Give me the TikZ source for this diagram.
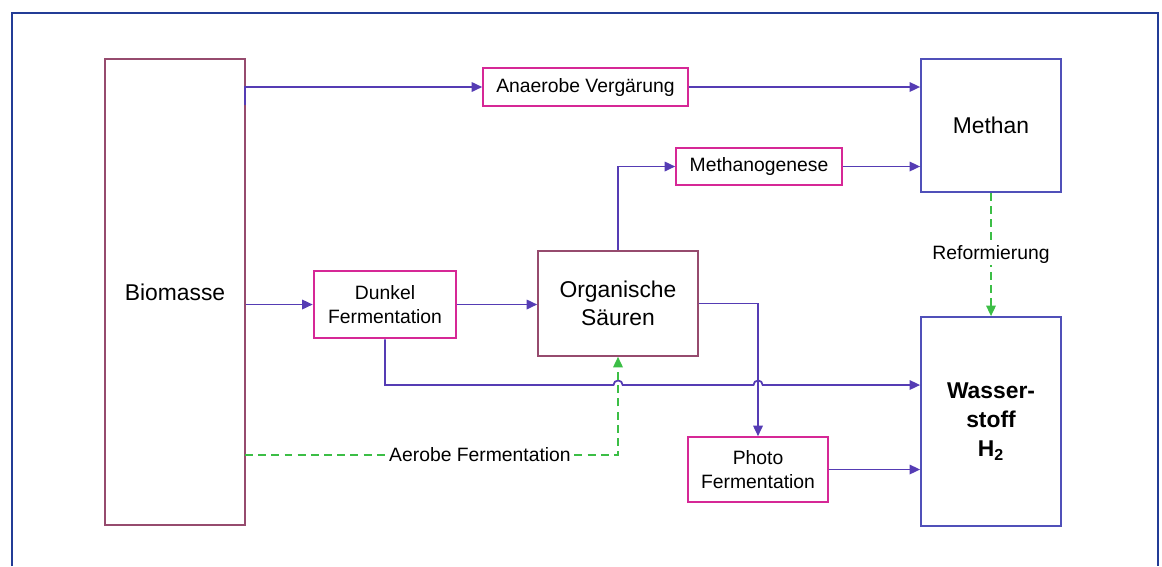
\documentclass[tikz,border=0pt]{standalone}
\usepackage{fontspec}
\setmainfont{Liberation Sans}
\usepackage{tikz}
\usetikzlibrary{arrows.meta}
\definecolor{rahmen}{RGB}{35,60,150}
\definecolor{mauve}{RGB}{150,75,110}
\definecolor{magenta}{RGB}{214,40,150}
\definecolor{blaubox}{RGB}{80,80,185}
\definecolor{pfeil}{RGB}{85,60,180}
\definecolor{gruen}{RGB}{60,190,70}
\tikzstyle{flow} = [draw=pfeil,line width=1pt,-{Triangle[length=6pt,width=5.4pt]}]
\tikzstyle{reform} = [draw=gruen,line width=1pt,dash pattern=on 4.5pt off 3pt,-{Triangle[length=6pt,width=5.4pt]}]

\begin{document}
\begin{tikzpicture}[x=0.02cm,y=-0.02cm,
                big/.style = {draw=mauve, line width=0.9pt, inner sep=0pt,
                  font=\fontsize{13}{16}\selectfont, align=center},
                proc/.style = {draw=magenta, line width=0.9pt, inner sep=0pt,
                  font=\fontsize{11}{13.7}\selectfont, align=center},
                prod/.style = {draw=blaubox, line width=1pt, inner sep=0pt,
                  font=\fontsize{13}{16}\selectfont, align=center}]
                \useasboundingbox (0,0) rectangle (1162,566);
                \draw[rahmen, line width=1.4pt] (12,566) -- (12,13) -- (1158,13) -- (1158,566);
                \node[big, minimum width=2.8cm, minimum height=9.32cm] (bio) at (175,292) {Biomasse};
                \node[proc, minimum width=4.1cm, minimum height=0.76cm] (anv) at (585.5,87) {Anaerobe Vergärung};
                \node[prod, minimum width=2.8cm, minimum height=2.66cm] (methan) at (991,125.5) {Methan};
                \node[proc, minimum width=3.32cm, minimum height=0.74cm] (methg) at (759,166.5) {Methanogenese};
                \node[big, minimum width=3.2cm, minimum height=2.1cm] (org) at (618,303.5) {Organische\\Säuren};
                \node[proc, line width=1.5pt, minimum width=2.84cm, minimum height=1.34cm] (dunkel) at (385,304.5) {Dunkel\\Fermentation};
                \node[prod, font=\fontsize{13}{16.5}\selectfont\bfseries, minimum width=2.8cm, minimum height=4.18cm] (wst) at (991,421.5) {Wasser-\\stoff\\H\textsubscript{2}};
                \node[proc, minimum width=2.8cm, minimum height=1.3cm] (photo) at (758,469.5) {Photo\\Fermentation};
                \coordinate (stub) at (245,105);
                \coordinate (aer) at (245,455);
                \coordinate (bus) at (0,385);
                % Pfade
                \path[flow] (stub) |- (anv.west);
                \path[flow] (anv.east) -- (methan.west |- anv.east);
                \path[flow] (org.north) |- (methg.west);
                \path[flow] (methg.east) -- (methan.west |- methg.east);
                \path[flow] (bio.east |- dunkel.west) -- (dunkel.west);
                \path[flow] (dunkel.east) -- (org.west |- dunkel.east);
                \path[flow] (org.east) -| (photo.north);
                \path[flow] (photo.east) -- (wst.west |- photo.east);
                \path[flow] (dunkel.south) |- (613.5,385) arc[start angle=180, end angle=0, radius=2.6pt]
                  -- (753.5,385) arc[start angle=180, end angle=0, radius=2.6pt] -- (wst.west |- bus);
                \path[reform] (methan.south) -- node[fill=white, inner sep=1pt, font=\fontsize{11}{13}\selectfont] {Reformierung} (wst.north);
                \path[reform] (aer) -| node[pos=0.315, fill=white, inner sep=0pt, font=\fontsize{11}{13}\selectfont] {Aerobe Fermentation} (org.south);
\end{tikzpicture}
\end{document}
